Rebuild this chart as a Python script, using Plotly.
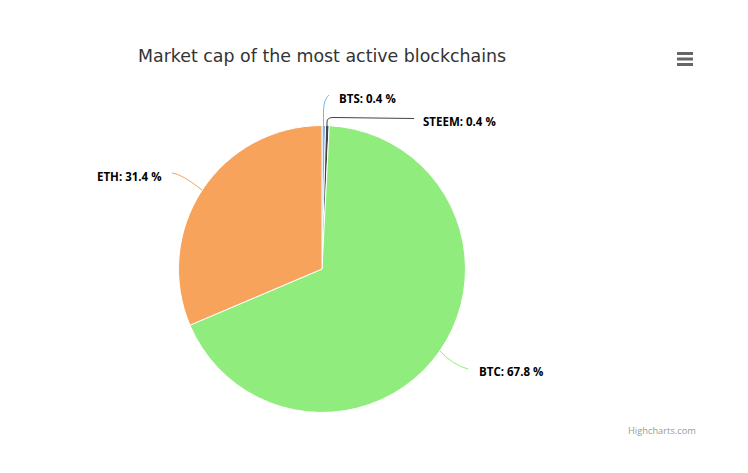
import plotly.graph_objects as go

W, H = 748, 473

# -----------------------------
# Data
# -----------------------------
coins = ["BTS", "STEEM", "BTC", "ETH"]
shares = [0.4, 0.4, 67.8, 31.4]
colors = ["#7cb5ec", "#434348", "#90ed7d", "#f7a35c"]

# label anchors in pixels (left edge, middle)
label_x = [337, 421, 477, 95]
label_y = [98, 121, 371, 176]

# connector paths in pixels
connectors = [
    "M 323.5 127 L 323.5 110 Q 324 99 329 95",
    "M 327 127 L 327 122 Q 327 117.5 333 117.5 L 414 118.5",
    "M 440 351 Q 453 365 468 369",
    "M 172 173 Q 182 174 202 190",
]

cx, cy, r = 322, 269, 143.5


def px(x):
    return x / W


def py(y):
    return 1 - y / H


def path_to_paper(p):
    out = []
    toks = p.split()
    i = 0
    while i < len(toks):
        if toks[i].isalpha():
            out.append(toks[i])
            i += 1
        else:
            out.append(f"{px(float(toks[i])):.5f},{py(float(toks[i + 1])):.5f}")
            i += 2
    return " ".join(out)


fig = go.Figure(
    go.Pie(
        labels=coins,
        values=shares,
        sort=False,
        direction="clockwise",
        rotation=0,
        textinfo="none",
        hoverinfo="label+percent",
        marker=dict(colors=colors, line=dict(color="white", width=1)),
        domain=dict(x=[px(cx - r), px(cx + r)], y=[py(cy + r), py(cy - r)]),
        showlegend=False,
    )
)

# -----------------------------
# Connectors and labels
# -----------------------------
for path, c in zip(connectors, colors):
    fig.add_shape(type="path", xref="paper", yref="paper", path=path_to_paper(path),
                  line=dict(color=c, width=1))

for name, val, lx, ly in zip(coins, shares, label_x, label_y):
    fig.add_annotation(x=px(lx), y=py(ly), xref="paper", yref="paper",
                       text=f"<b>{name}: {val} %</b>", showarrow=False,
                       xanchor="left", yanchor="middle",
                       font=dict(family="Open Sans", size=11.5, color="#000000"))

# title
fig.add_annotation(x=px(322), y=py(56), xref="paper", yref="paper",
                   text="Market cap of the most active blockchains", showarrow=False,
                   xanchor="center", yanchor="middle",
                   font=dict(family="DejaVu Sans", size=17.4, color="#333333"))

# credits
fig.add_annotation(x=px(698), y=py(430), xref="paper", yref="paper",
                   text="Highcharts.com", showarrow=False,
                   xanchor="right", yanchor="middle",
                   font=dict(family="Open Sans", size=9.3, color="#999999"))

# burger menu
for y in [53.5, 59, 64.5]:
    fig.add_shape(type="line", xref="paper", yref="paper",
                  x0=px(677), x1=px(693), y0=py(y), y1=py(y),
                  line=dict(color="#666666", width=3))

fig.update_layout(
    width=W,
    height=H,
    margin=dict(l=0, r=0, t=0, b=0),
    paper_bgcolor="white",
)

# page has a default body margin, drop it so pixels line up
fig.write_html("out.html", config=dict(displayModeBar=False),
               post_script="document.body.style.margin='0';")
